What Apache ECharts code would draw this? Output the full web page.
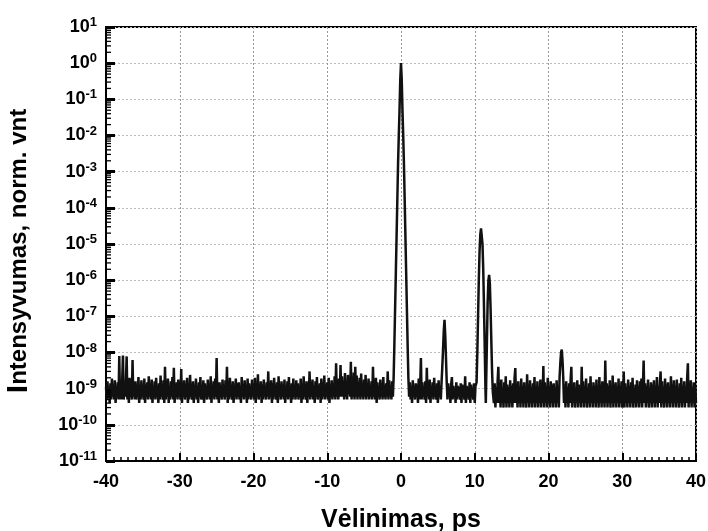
<!DOCTYPE html>
<html>
<head>
<meta charset="utf-8">
<script src="https://cdn.jsdelivr.net/npm/echarts@6/dist/echarts.min.js"></script>
<style>html,body{margin:0;padding:0;background:#fff}#c{width:708px;height:531px}</style>
</head>
<body>
<div id="c"></div>
<script>
// Noise floor samples, in units of 1e-10 (norm. units), regular step 0.1 ps
const noiseStep = 0.1;
const noiseA_start = -40.0; // to -1.1
const noiseA = [
 11,5,16,6,9,4,14,5,19,6,12,5,17,4,10,6,15,5,80,5,
 13,5,18,82,5,11,6,15,78,5,14,4,20,6,10,5,62,6,13,5,
 16,5,10,6,21,4,12,5,17,6,9,5,19,4,13,6,15,5,22,6,
 12,5,18,4,10,6,16,5,20,6,11,4,14,5,23,6,10,5,17,4,
 40,5,13,6,19,4,11,5,16,6,21,5,38,4,12,6,15,5,18,6,
 10,5,35,4,14,6,17,5,11,6,20,4,13,5,24,6,10,5,16,4,
 12,6,19,5,10,4,15,6,21,5,11,5,17,4,14,6,9,5,18,6,
 13,5,22,4,11,6,16,5,19,6,70,5,12,4,15,6,10,5,18,6,
 11,5,17,6,40,4,13,5,20,6,10,5,16,4,12,6,19,5,14,6,
 15,5,10,4,21,6,13,5,17,6,11,4,19,5,14,6,9,5,18,6,
 12,5,20,4,14,6,25,5,11,6,16,4,13,5,18,6,10,5,15,6,
 30,5,12,6,17,4,14,5,20,6,10,5,15,4,22,6,11,5,16,6,
 13,5,18,4,11,6,16,5,21,6,12,4,14,5,19,6,10,5,17,6,
 14,5,11,6,19,4,13,5,22,6,10,5,16,4,12,6,30,5,15,6,
 18,5,12,4,16,6,21,5,11,6,14,4,19,5,13,6,23,5,12,6,
 15,5,20,4,12,6,17,5,14,6,22,5,50,6,13,5,19,6,45,6,
 22,6,16,5,27,6,14,5,24,7,19,6,55,5,21,6,28,5,40,6,
 23,5,15,6,20,5,26,6,13,5,18,6,24,5,14,6,19,5,12,6,
 16,5,40,6,13,5,20,4,15,6,11,5,18,6,14,5,21,6,12,5,
 14,6,30,5,17,6,12,5,16,6
];
const peakMain = [
 [-1.0, 2e-9], [-0.9, 1.6e-8], [-0.8, 1.6e-7], [-0.7, 1.6e-6], [-0.6, 1.6e-5],
 [-0.5, 1.6e-4], [-0.4, 1.6e-3], [-0.3, 1e-2], [-0.2, 5e-2], [-0.1, 0.35],
 [0.0, 1.0],
 [0.1, 0.35], [0.2, 5e-2], [0.3, 1e-2], [0.4, 1.6e-3], [0.5, 1.6e-4],
 [0.6, 1.6e-5], [0.7, 1.6e-6], [0.8, 1.6e-7], [0.9, 1.6e-8], [1.0, 2e-9]
];
const noiseB_start = 1.1; // to 5.4
const noiseB = [
 6,15,5,12,4,17,6,11,5,14,6,13,4,19,5,12,70,5,15,6,
 11,5,16,4,38,6,13,5,18,4,12,6,15,5,20,6,11,5,14,4,
 17,6,12,5
];
const peak6 = [
 [5.5, 1.5e-9], [5.6, 4e-9], [5.7, 1.2e-8], [5.8, 4e-8], [5.9, 8e-8],
 [6.0, 3e-8], [6.1, 7e-9], [6.2, 1.5e-9]
];
const noiseC_start = 6.3; // to 10.1
const noiseC = [
 5,14,6,11,4,13,21,5,12,6,10,4,15,5,12,6,11,5,14,4,
 13,6,10,5,22,4,12,6,11,5,15,4,13,6,10,5,14,4,12
];
const peak11 = [
 [10.25, 1.5e-9], [10.35, 1e-8], [10.45, 1e-7], [10.55, 1e-6], [10.65, 6e-6],
 [10.75, 1.8e-5], [10.85, 2.7e-5], [10.95, 2.4e-5], [11.05, 1e-5], [11.15, 2e-6],
 [11.25, 2e-7], [11.35, 1.5e-8], [11.45, 1e-9], [11.5, 4e-10], [11.55, 1.5e-9],
 [11.65, 2e-8], [11.75, 2.5e-7], [11.85, 1e-6], [11.95, 1.4e-6], [12.05, 8e-7],
 [12.15, 1.5e-7], [12.25, 2e-8], [12.35, 3e-9], [12.45, 8e-10]
];
const noiseD_start = 12.6; // to 21.4
const noiseD = [
 4,14,3,11,4,16,40,4,12,3,18,4,10,3,15,4,22,3,13,4,
 11,3,17,4,12,3,14,4,20,37,4,13,3,16,4,11,3,19,4,12,
 3,15,4,10,3,25,4,13,3,17,4,11,3,14,4,21,3,12,4,16,
 3,11,4,18,3,13,4,42,3,15,4,12,3,20,4,11,3,16,4,13,
 3,14,4,11,3,17,4,12,3
];
const peak22 = [[21.5, 2e-9], [21.6, 5e-9], [21.7, 1e-8], [21.8, 1.2e-8], [21.9, 6e-9], [22.0, 2e-9]];
const noiseE_start = 22.1; // to 40.0
const noiseE = [
 4,13,3,16,4,11,3,14,4,18,40,3,12,4,15,3,10,4,17,3,
 13,4,11,3,40,4,16,3,12,4,19,3,10,4,14,3,22,4,11,3,
 15,4,12,3,18,4,10,3,21,4,13,3,16,4,11,3,60,4,14,3,
 12,4,17,3,10,4,23,3,13,4,15,3,11,4,19,3,12,4,16,3,
 4,30,3,14,4,11,3,18,4,12,3,15,4,20,3,10,4,13,3,17,
 4,12,3,16,4,19,3,11,60,4,14,3,12,4,18,3,10,4,15,3,
 13,4,17,3,11,4,21,3,12,4,14,30,3,16,4,10,3,19,4,13,
 3,15,4,11,3,22,4,13,3,17,4,12,3,18,4,10,3,14,4,20,
 3,12,4,16,3,11,4,19,50,3,13,4,17,3,11,4,15,3,12,4
];
const xTicks = [-40, -30, -20, -10, 0, 10, 20, 30, 40];
const yDecades = [-11, -10, -9, -8, -7, -6, -5, -4, -3, -2, -1, 0, 1];
const yMinorMultipliers = [2, 3, 4, 5, 6, 7, 8, 9];

function seg(start, arr) {
  return arr.map((v, i) => [+(start + i * noiseStep).toFixed(2), v * 1e-10]);
}
const data = [].concat(
  seg(noiseA_start, noiseA), peakMain,
  seg(noiseB_start, noiseB), peak6,
  seg(noiseC_start, noiseC), peak11,
  seg(noiseD_start, noiseD), peak22,
  seg(noiseE_start, noiseE)
);
// log-axis minor tick positions (2..9 x 10^k)
const yMinor = [];
yDecades.slice(0, -1).forEach(k => yMinorMultipliers.forEach(m => yMinor.push([xTicks[0], m * Math.pow(10, k)])));

const FONT = 'Liberation Sans, Arial, sans-serif';
const chart = echarts.init(document.getElementById('c'), null, {renderer: 'canvas'});
chart.setOption({
  animation: false,
  backgroundColor: '#fff',
  grid: {left: 106, right: 12, top: 27, bottom: 70, containLabel: false, outerBoundsMode: 'none',
    show: true, borderColor: '#000', borderWidth: 2, backgroundColor: 'transparent'},
  xAxis: {
    type: 'value', min: xTicks[0], max: xTicks[xTicks.length - 1], interval: 10,
    name: 'Vėlinimas, ps', nameLocation: 'middle', nameGap: 47,
    nameTextStyle: {fontFamily: FONT, fontWeight: 'bold', fontSize: 25, color: '#000'},
    axisLine: {onZero: false, lineStyle: {color: '#000', width: 2}},
    axisTick: {inside: true, length: 8, lineStyle: {color: '#000', width: 2}},
    minorTick: {show: true, splitNumber: 10, length: 4, lineStyle: {color: '#000', width: 1.5}},
    axisLabel: {fontFamily: FONT, fontWeight: 'bold', fontSize: 18, color: '#000', margin: 12},
    splitLine: {show: true, lineStyle: {color: '#999', type: [2, 2], width: 1}}
  },
  yAxis: {
    type: 'log', logBase: 10, min: 1e-11, max: 10, interval: 1,
    name: '{big|I}ntensyvumas, norm. vnt', nameLocation: 'middle', nameGap: 72,
    nameTextStyle: {fontFamily: FONT, fontWeight: 'bold', fontSize: 24, color: '#000', padding: [0, 14, 0, 0],
      rich: {big: {fontFamily: FONT, fontWeight: 'bold', fontSize: 30, color: '#000'}}},
    axisLine: {show: true, onZero: false, lineStyle: {color: '#000', width: 2}},
    axisTick: {inside: true, length: 9, lineStyle: {color: '#000', width: 3}},
    axisLabel: {
      margin: 9,
      formatter: function (v) { return '{b|10}{s|' + Math.round(Math.log10(v)) + '}'; },
      rich: {
        b: {fontFamily: FONT, fontWeight: 'bold', fontSize: 18, color: '#000'},
        s: {fontFamily: FONT, fontWeight: 'bold', fontSize: 13, color: '#000', verticalAlign: 'bottom', padding: [0, 0, 9, 0]}
      }
    },
    splitLine: {show: true, lineStyle: {color: '#bbb', type: [2, 2], width: 1}}
  },
  series: [{
    type: 'line', data: data, showSymbol: false, symbol: 'none',
    lineStyle: {color: '#111', width: 2.5}, clip: true, z: 3
  }, {
    type: 'custom', data: yMinor, clip: false, silent: true, z: 4,
    renderItem: function (params, api) {
      const p = api.coord([api.value(0), api.value(1)]);
      return {type: 'line', shape: {x1: p[0], y1: p[1], x2: p[0] + 5, y2: p[1]},
        style: {stroke: '#000', lineWidth: 1.3}};
    }
  }]
});
</script>
</body>
</html>
